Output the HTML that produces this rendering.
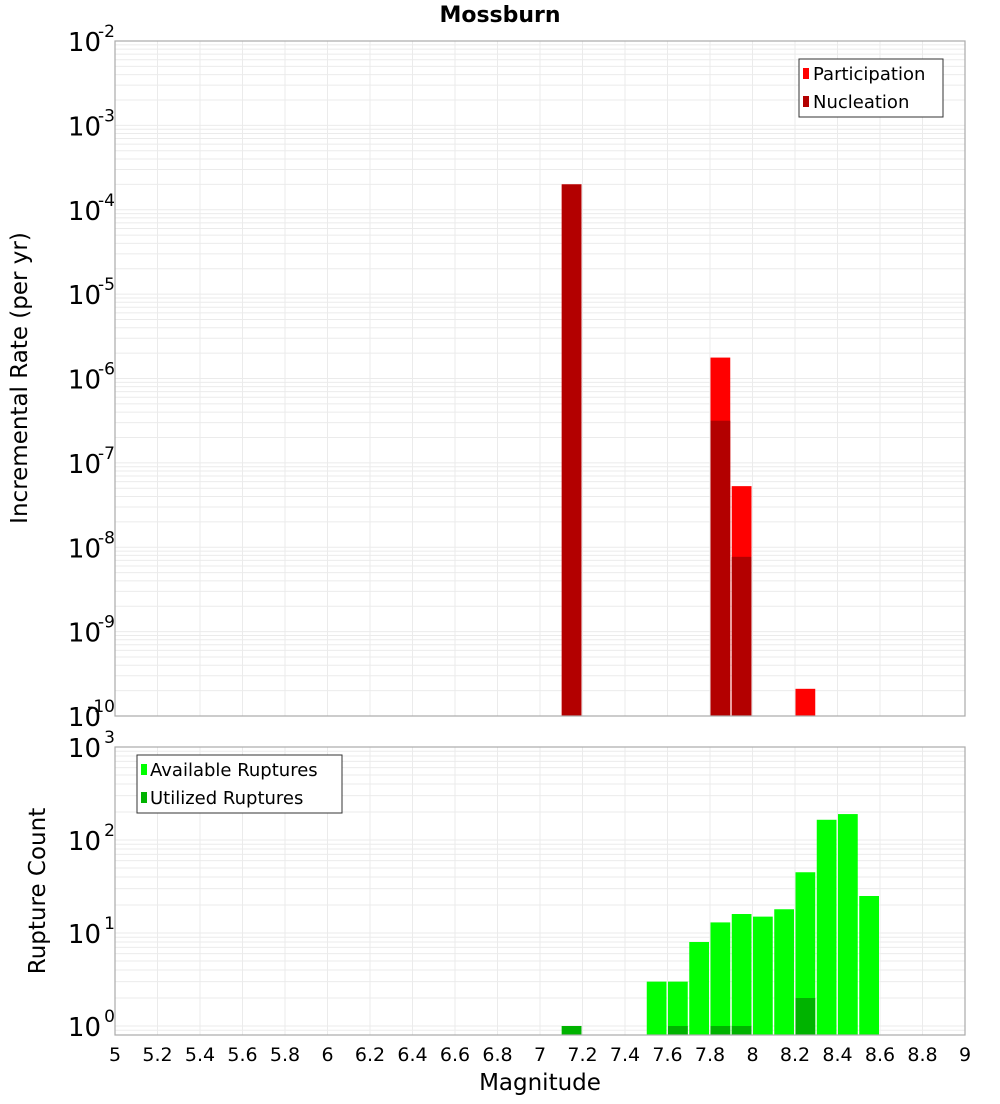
<!DOCTYPE html>
<html><head><meta charset="utf-8"><style>
body{margin:0;background:#fff;font-family:"DejaVu Sans","Liberation Sans",sans-serif;}
svg text{font-family:"DejaVu Sans","Liberation Sans",sans-serif;}
</style></head><body>
<svg id="c" width="1000" height="1100" xmlns="http://www.w3.org/2000/svg"></svg>
<script>
const binStarts = [7.1, 7.8, 7.9, 8.2];
const participation = [2.0e-4, 1.77e-6, 5.3e-8, 2.1e-10];
const nucleation = [2.0e-4, 3.16e-7, 7.7e-9, 0];
const countBins = [7.1, 7.5, 7.6, 7.7, 7.8, 7.9, 8.0, 8.1, 8.2, 8.3, 8.4, 8.5];
const available = [1, 3, 3, 8, 13, 16, 15, 18, 45, 165, 190, 25];
const utilized = [1, 0, 1, 0, 1, 1, 0, 0, 2, 0, 0, 0];
const xTicks = ["5","5.2","5.4","5.6","5.8","6","6.2","6.4","6.6","6.8","7","7.2","7.4","7.6","7.8","8","8.2","8.4","8.6","8.8","9"];
const topExps = [-2,-3,-4,-5,-6,-7,-8,-9,-10];
const botExps = [3,2,1,0];

const svg = document.getElementById('c');
const NS = 'http://www.w3.org/2000/svg';
function el(tag, attrs, parent){const e=document.createElementNS(NS,tag);for(const k in attrs)e.setAttribute(k,attrs[k]);(parent||svg).appendChild(e);return e;}
const X0=115,X1=965;
const xs = m => X0+(m-5)/4*(X1-X0);
const T0=41,T1=716;
const yTop = v => T0+(-2-Math.log10(v))*(T1-T0)/8;
const B0=747,B1=1035,BD=93;
const yBot = v => B0+(3-Math.log10(v))*BD;

function grid(yt, yb, yfn, eHi, eLo, name){
  const g=el('g',{});
  
  
  for(let e=eLo-1;e<=eHi;e++){for(let k=1;k<10;k++){const y=yfn(k*Math.pow(10,e));if(y>=yt&&y<=yb)el('line',{x1:X0,x2:X1,y1:y,y2:y,stroke:'#ebebeb','stroke-width':1},g);}}
  xTicks.forEach(t=>{const x=xs(+t);el('line',{x1:x,x2:x,y1:yt,y2:yb,stroke:'#ebebeb','stroke-width':1},g);});
}
grid(T0,T1,yTop,-2,-10,'top-grid');
grid(B0,B1,yBot,3,-1,'bottom-grid');

const bw=(xs(5.1)-xs(5))-1.5;
binStarts.forEach((m,i)=>{
  const x=xs(m)+0.5;
  const r=el('rect',{x:x,y:yTop(participation[i]),width:bw,height:T1-yTop(participation[i]),fill:'#ff0000'});
  
  
  if(nucleation[i]>0){
    const n=el('rect',{x:x,y:yTop(nucleation[i]),width:bw,height:T1-yTop(nucleation[i]),fill:'#b30000'});
    
    
  }
});
countBins.forEach((m,i)=>{
  const x=xs(m)+0.5;
  if(available[i]>0){
    const r=el('rect',{x:x,y:yBot(available[i]),width:bw,height:B1-yBot(available[i]),fill:'#00ff00'});
    
    
  }
  if(utilized[i]>0){
    const u=el('rect',{x:x,y:yBot(utilized[i]),width:bw,height:B1-yBot(utilized[i]),fill:'#00b300'});
    
    
  }
});
el('rect',{x:X0,y:T0,width:X1-X0,height:T1-T0,fill:'none',stroke:'#aaa','stroke-width':1.2});
el('rect',{x:X0,y:B0,width:X1-X0,height:B1-B0,fill:'none',stroke:'#aaa','stroke-width':1.2});

function ylab(y,e,name){
  const t=el('text',{x:101,y:y+10,'font-size':26,'text-anchor':'end',fill:'#000'});t.textContent='10';
  
  const s=el('text',{x:115,y:y-4,'font-size':17,'text-anchor':'end',fill:'#000'});s.textContent=String(e);
}
topExps.forEach(e=>ylab(yTop(Math.pow(10,e)),e,'top-y-tick'));
botExps.forEach(e=>ylab(yBot(Math.pow(10,e)),e,'bottom-y-tick'));
xTicks.forEach(t=>{const tx=el('text',{x:xs(+t),y:1061,'font-size':19,'text-anchor':'middle',fill:'#000'});tx.textContent=t;
  });
</script>
<svg style="position:absolute;left:0;top:0" width="1000" height="1100">
<text x="500" y="22" font-size="22" font-weight="bold" text-anchor="middle">Mossburn</text>
<text x="540" y="1090" font-size="23" text-anchor="middle">Magnitude</text>
<text transform="translate(27,378) rotate(-90)" font-size="23" text-anchor="middle">Incremental Rate (per yr)</text>
<text transform="translate(45,891) rotate(-90)" font-size="23" text-anchor="middle">Rupture Count</text>
<g>
<rect x="799" y="59" width="144" height="58" fill="#fff" stroke="#333" stroke-width="1"/>
<rect x="803" y="68" width="6" height="11" fill="#ff0000"/>
<text x="813" y="80" font-size="18">Participation</text>
<rect x="803" y="96" width="6" height="11" fill="#b30000"/>
<text x="813" y="108" font-size="18">Nucleation</text>
</g>
<g>
<rect x="137" y="755" width="205" height="58" fill="#fff" stroke="#333" stroke-width="1"/>
<rect x="141" y="764" width="6" height="11" fill="#00ff00"/>
<text x="150" y="776" font-size="18">Available Ruptures</text>
<rect x="141" y="792" width="6" height="11" fill="#00b300"/>
<text x="150" y="804" font-size="18">Utilized Ruptures</text>
</g>
</svg>
</body></html>
